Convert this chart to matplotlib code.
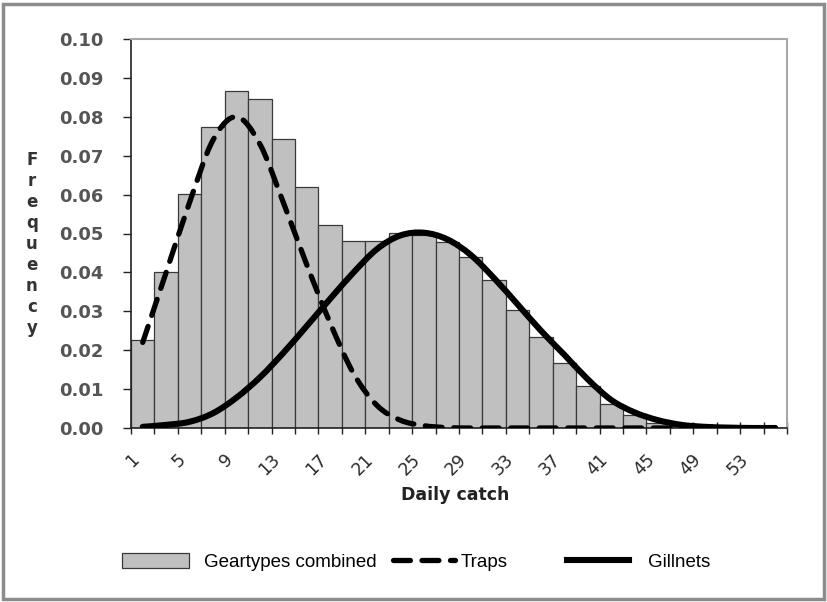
import numpy as np
import matplotlib.pyplot as plt
from matplotlib.patches import Rectangle, PathPatch
from matplotlib.path import Path
from matplotlib.lines import Line2D

catch = [1, 3, 5, 7, 9, 11, 13, 15, 17, 19, 21, 23, 25, 27,
         29, 31, 33, 35, 37, 39, 41, 43, 45, 47, 49, 51, 53, 55]
combined = [0.0227, 0.0400, 0.0601, 0.0775, 0.0867, 0.0846, 0.0743, 0.0619,
            0.0523, 0.0481, 0.0480, 0.0501, 0.0496, 0.0478, 0.0440, 0.0380,
            0.0303, 0.0233, 0.0167, 0.0107, 0.0062, 0.0034, 0.0014, 0.0005,
            0.0, 0.0, 0.0, 0.0]
traps = [0.0220, 0.0400, 0.0580, 0.0740, 0.0800, 0.0730, 0.0580, 0.0420,
         0.0270, 0.0140, 0.0058, 0.0020, 0.0006, 0.0001, 0.0, 0.0,
         0.0, 0.0, 0.0, 0.0, 0.0, 0.0, 0.0, 0.0, 0.0, 0.0, 0.0, 0.0]
gillnets = [0.0003, 0.0008, 0.0016, 0.0038, 0.0078, 0.0130, 0.0193, 0.0262,
            0.0332, 0.0400, 0.0460, 0.0495, 0.0502, 0.0485, 0.0445, 0.0385,
            0.0318, 0.0250, 0.0188, 0.0125, 0.0072, 0.0040, 0.0020, 0.0008,
            0.0003, 0.0001, 0.0, 0.0]

x = np.arange(len(catch))


def smooth_path(xs, ys):
    # bezier path through every point, like a spreadsheet "smoothed line"
    p = np.column_stack([xs, ys]).astype(float)
    verts = [p[0]]
    codes = [Path.MOVETO]
    n = len(p)
    for i in range(n - 1):
        p0 = p[max(i - 1, 0)]
        p3 = p[min(i + 2, n - 1)]
        c1 = p[i] + (p[i + 1] - p0) / 6
        c2 = p[i + 1] - (p3 - p[i]) / 6
        verts += [c1, c2, p[i + 1]]
        codes += [Path.CURVE4] * 3
    return Path(verts, codes)


fig = plt.figure(figsize=(8.28, 6.02), dpi=100)
ax = fig.add_axes([131/828, 1-428/602, 656/828, 389/602])

bars = ax.bar(x, combined, width=1.0, color='#c0c0c0', edgecolor='#3a3a3a',
              linewidth=0.9, label='Geartypes combined', zorder=2)

traps_style = dict(color='black', lw=3.8, ls=(0, (3.2, 2.2)))
gill_style = dict(color='black', lw=4.4, ls='-')
ax.add_patch(PathPatch(smooth_path(x, traps), fill=False, capstyle='round',
                       zorder=3, **traps_style))
ax.add_patch(PathPatch(smooth_path(x, gillnets), fill=False, capstyle='round',
                       zorder=4, **gill_style))
l_traps = Line2D([], [], dash_capstyle='round', label='Traps', **traps_style)
l_gill = Line2D([], [], label='Gillnets', **gill_style)

ax.set_xlim(-0.5, len(catch) - 0.5)
ax.set_ylim(0, 0.10)

# tick marks between categories, labels on every other category
ax.set_xticks(np.arange(-0.5, len(catch)))
ax.set_xticklabels([])
ax.tick_params(axis='x', which='major', direction='inout', length=9, width=1, color='#222')
ax.set_xticks(x[::2], minor=True)
ax.set_xticklabels([str(c) for c in catch[::2]], minor=True, rotation=45,
                   ha='right', fontsize=12.5, color='#2a2a2a')
ax.tick_params(axis='x', which='minor', length=0, pad=16)

ax.set_yticks(np.arange(0, 0.101, 0.01))
ax.set_yticklabels(['%.2f' % v for v in np.arange(0, 0.101, 0.01)],
                   fontsize=13, fontweight='bold', color='#555')
ax.tick_params(axis='y', direction='out', length=6, width=1, color='#222', pad=14)

for s in ['top', 'right']:
    ax.spines[s].set_color('#a8a8a8')
    ax.spines[s].set_linewidth(1.5)
for s in ['left', 'bottom']:
    ax.spines[s].set_color('#222')
    ax.spines[s].set_linewidth(1.2)

fig.text(455/828, 1-495/602, 'Daily catch', ha='center', va='center',
         fontsize=12.5, fontweight='bold', color='#222')
fig.text(32/828, 1-244/602, '\n'.join('Frequency'), ha='center', va='center',
         fontsize=12, fontweight='bold', color='#333', linespacing=1.22)

leg_kw = dict(frameon=False, borderpad=0, borderaxespad=0, handleheight=0.85,
              prop={'family': 'Liberation Sans', 'size': 13.5})
fig.legend(handles=[bars], loc='center left', bbox_to_anchor=(122/828, 1-562/602),
           handlelength=3.6, handletextpad=0.8, **leg_kw)
fig.legend(handles=[l_traps], loc='center left', bbox_to_anchor=(393/828, 1-562/602),
           handlelength=3.3, handletextpad=0.3, **leg_kw)
fig.legend(handles=[l_gill], loc='center left', bbox_to_anchor=(567/828, 1-562/602),
           handlelength=3.3, handletextpad=1.0, **leg_kw)

fig.patches.append(Rectangle((0.004, 0.005), 0.991, 0.989, transform=fig.transFigure,
                             fill=False, edgecolor='#8c8c8c', linewidth=2.5))

fig.savefig('out.png', dpi=100)
